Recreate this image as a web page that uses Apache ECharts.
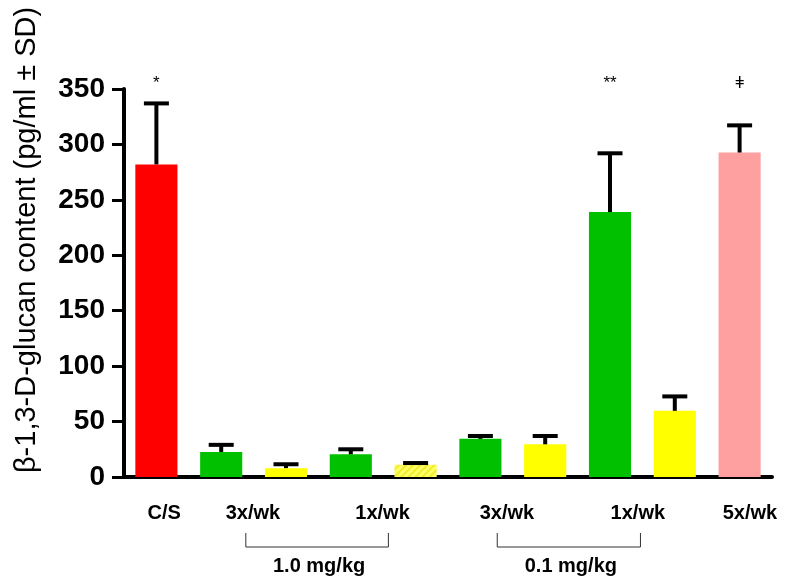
<!DOCTYPE html>
<html>
<head>
<meta charset="utf-8">
<script src="https://cdn.jsdelivr.net/npm/echarts@6/dist/echarts.min.js"></script>
<style>
  html, body { margin: 0; padding: 0; background: #fff; }
  #main { width: 786px; height: 587px; }
</style>
</head>
<body>
<div id="main"></div>
<script>
// bar groups, left to right
const groups = ['C/S', '3x/wk 1.0', '3x/wk 1.0 y', '1x/wk 1.0', '1x/wk 1.0 y',
                '3x/wk 0.1', '3x/wk 0.1 y', '1x/wk 0.1', '1x/wk 0.1 y', '5x/wk'];
const means = [282, 22.6, 8, 20.5, 11, 34.4, 29.5, 239, 59.7, 292.7];
const sds   = [55, 6.4, 3.5, 4.5, 1.6, 2.6, 7.5, 53, 13, 24.5];
const barColors = ['#ff0000', '#00c000', '#ffff00', '#00c000', '#ffff66',
                   '#00c000', '#ffff00', '#00c000', '#ffff00', '#ffa0a0'];
const hatched = [false, false, false, false, true, false, false, false, false, false];
const yTicks = [0, 350, 50]; // min, max, step

const xLabels = ['C/S', '3x/wk', '1x/wk', '3x/wk', '1x/wk', '5x/wk'];
const doseLabels = ['1.0 mg/kg', '0.1 mg/kg'];
const signif = [{ at: 0, text: '*' }, { at: 7, text: '**' }, { at: 9, text: 'ǂ' }];

// where the labels sit, in bar-slot units (layout only)
const xLabelSlots = [0.12, 1.49, 3.49, 5.41, 7.43, 9.16];
const bracketSlots = [[1.38, 3.58], [5.26, 7.47]];

const FONT = 'Arial, "Liberation Sans", sans-serif';

const chart = echarts.init(document.getElementById('main'));

chart.setOption({
  animation: false,
  backgroundColor: '#fff',
  grid: { left: 124, right: 14, top: 89, bottom: 110 },
  xAxis: {
    type: 'category',
    data: groups,
    axisLine: { lineStyle: { color: '#000', width: 4 } },
    axisTick: { show: false },
    axisLabel: { show: false }
  },
  yAxis: {
    type: 'value',
    min: yTicks[0],
    max: yTicks[1],
    interval: yTicks[2],
    splitLine: { show: false },
    axisLine: { show: true, lineStyle: { color: '#000', width: 4 } },
    axisTick: { show: true, length: 12, lineStyle: { color: '#000', width: 3 } },
    axisLabel: { color: '#000', fontFamily: FONT, fontWeight: 'bold', fontSize: 28, margin: 19 }
  },
  series: [
    {
      type: 'bar',
      barWidth: '65%',
      data: means.map((v, i) => {
        const style = { color: barColors[i] };
        if (hatched[i]) {
          style.decal = {
            symbol: 'rect',
            dashArrayX: [1, 0],
            dashArrayY: [2, 3],
            rotation: -Math.PI / 4,
            color: 'rgba(230,220,0,0.55)'
          };
        }
        return { value: v, itemStyle: style };
      }),
      z: 2
    },
    {
      type: 'custom',
      z: 3,
      data: means.map((v, i) => [i, v, v + sds[i]]),
      renderItem: function (params, api) {
        const base = api.coord([api.value(0), api.value(1)]);
        const top = api.coord([api.value(0), api.value(2)]);
        const half = 12.5;
        const style = { stroke: '#000', lineWidth: 4 };
        return {
          type: 'group',
          children: [
            { type: 'line', shape: { x1: base[0], y1: base[1], x2: top[0], y2: top[1] }, style: style },
            { type: 'line', shape: { x1: top[0] - half, y1: top[1], x2: top[0] + half, y2: top[1] }, style: style }
          ]
        };
      }
    }
  ]
});

function slotX(s) {
  const p0 = chart.convertToPixel({ xAxisIndex: 0 }, 0);
  const p1 = chart.convertToPixel({ xAxisIndex: 0 }, 1);
  return p0 + s * (p1 - p0);
}

const axisY = chart.convertToPixel({ yAxisIndex: 0 }, 0);
const topY = chart.convertToPixel({ yAxisIndex: 0 }, yTicks[1]);
const gfx = [];

gfx.push({
  type: 'text',
  x: 27, y: 240,
  rotation: Math.PI / 2,
  style: {
    text: 'β-1,3-D-glucan content (pg/ml ± SD)',
    font: '29px ' + FONT,
    fill: '#000',
    align: 'center',
    verticalAlign: 'middle'
  }
});

xLabels.forEach((t, i) => {
  gfx.push({
    type: 'text',
    x: slotX(xLabelSlots[i]), y: axisY + 36,
    style: { text: t, font: 'bold 20px ' + FONT, fill: '#000', align: 'center', verticalAlign: 'middle' }
  });
});

bracketSlots.forEach((b, i) => {
  const x1 = slotX(b[0]), x2 = slotX(b[1]);
  gfx.push({
    type: 'polyline',
    shape: { points: [[x1, axisY + 56], [x1, axisY + 70], [x2, axisY + 70], [x2, axisY + 56]] },
    style: { stroke: '#333', lineWidth: 1, fill: null }
  });
  gfx.push({
    type: 'text',
    x: (x1 + x2) / 2 + 2, y: axisY + 89,
    style: { text: doseLabels[i], font: 'bold 20px ' + FONT, fill: '#000', align: 'center', verticalAlign: 'middle' }
  });
});

signif.forEach(s => {
  gfx.push({
    type: 'text',
    x: slotX(s.at), y: topY - 6,
    style: { text: s.text, font: '17px ' + FONT, fill: '#000', align: 'center', verticalAlign: 'middle' }
  });
});

chart.setOption({ graphic: gfx });
</script>
</body>
</html>
